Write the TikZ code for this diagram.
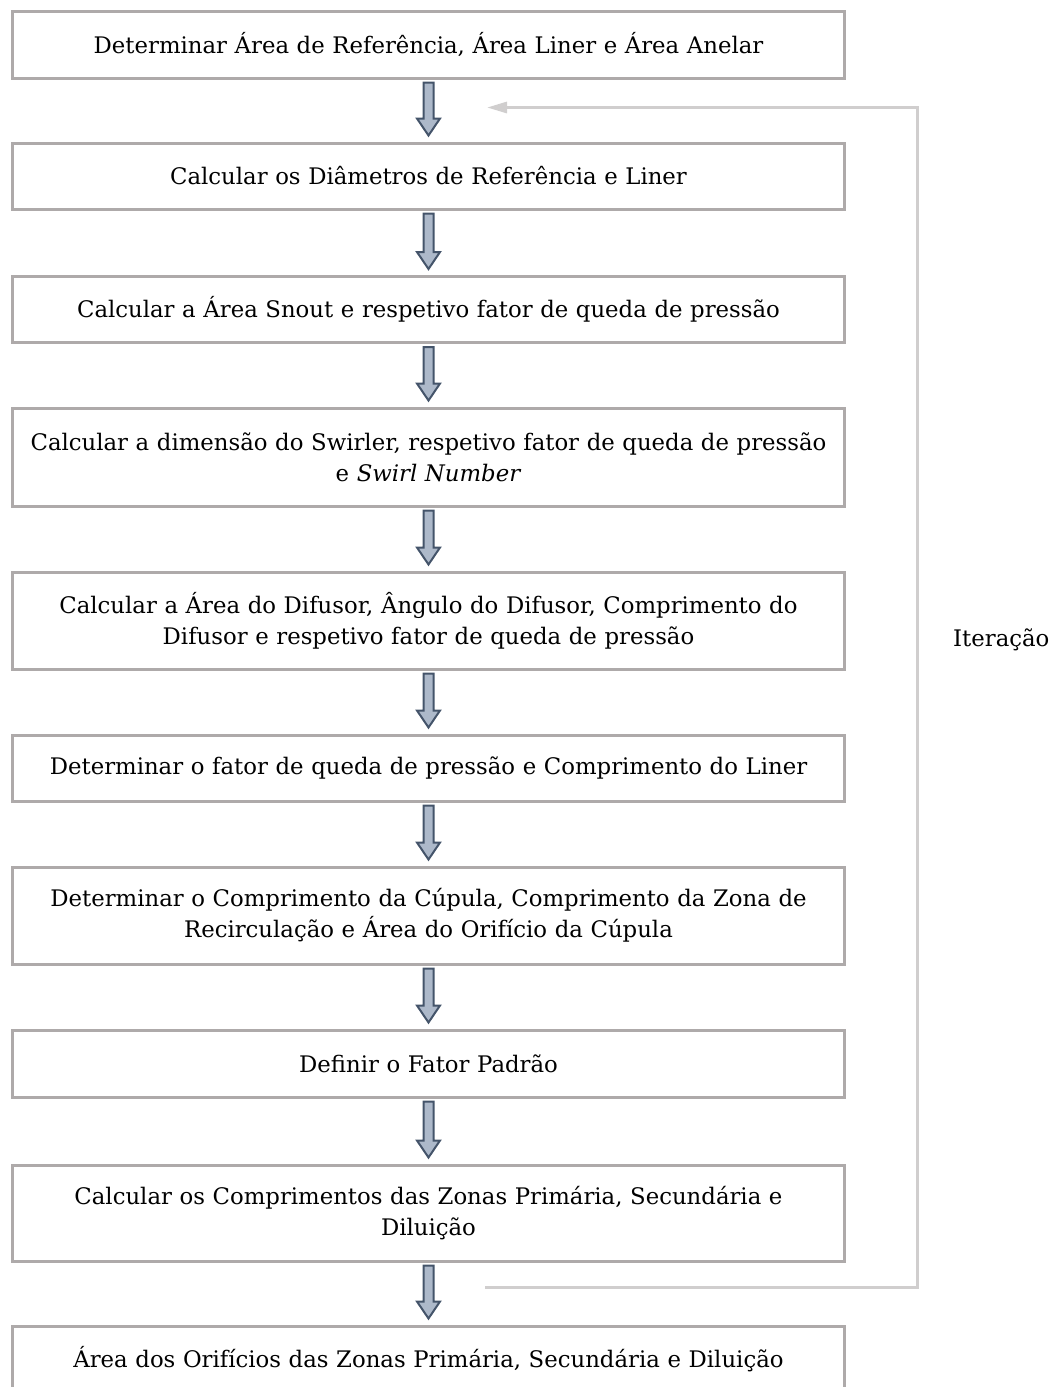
\documentclass[tikz,border=0pt]{standalone}
\usepackage{fontspec}
\setmainfont{DejaVu Serif}
\usetikzlibrary{calc,arrows.meta}
\definecolor{boxgray}{HTML}{AEAAAA}
\definecolor{itergray}{HTML}{D0CECE}
\definecolor{arrfill}{HTML}{ADB9CA}
\definecolor{arrdraw}{HTML}{44546A}
\newcommand\blockarr[2]{%
  \draw[draw=arrdraw, fill=arrfill, line width=2pt, line join=miter]
    let \p1=($(#1.south)+(0,3)$), \p2=($(#2.north)+(0,-6)$) in
    (\x1-5pt,\y1) -- (\x1+5pt,\y1) -- (\x1+5pt,\y2+17pt) -- (\x1+11.5pt,\y2+17pt)
    -- (\x1,\y2) -- (\x1-11.5pt,\y2+17pt) -- (\x1-5pt,\y2+17pt) -- cycle;}
\tikzset{
  txtfont/.style={font=\fontsize{22.8pt}{31pt}\selectfont},
  stepbox/.style={draw=boxgray, line width=3pt, minimum width=832pt,
    minimum height=#1, inner sep=0pt, align=center, text width=826pt, txtfont},
  iterline/.style={draw=itergray, line width=3pt},
}
\begin{document}
\begin{tikzpicture}[x=1pt,y=-1pt]
\useasboundingbox (0,0) rectangle (1053,1387);
\node[stepbox=67pt] (b1) at (428.5,44.5) {Determinar Área de Referência, Área Liner e Área Anelar};
\node[stepbox=66pt] (b2) at (428.5,176) {Calcular os Diâmetros de Referência e Liner};
\node[stepbox=66pt] (b3) at (428.5,309.5) {Calcular a Área Snout e respetivo fator de queda de pressão};
\node[stepbox=98pt] (b4) at (428.5,457) {Calcular a dimensão do Swirler, respetivo fator de queda de pressão\\ e \textit{Swirl Number}};
\node[stepbox=97pt] (b5) at (428.5,620.5) {Calcular a Área do Difusor, Ângulo do Difusor, Comprimento do\\ Difusor e respetivo fator de queda de pressão};
\node[stepbox=66pt] (b6) at (428.5,768) {Determinar o fator de queda de pressão e Comprimento do Liner};
\node[stepbox=97pt] (b7) at (428.5,915.5) {Determinar o Comprimento da Cúpula, Comprimento da Zona de\\ Recirculação e Área do Orifício da Cúpula};
\node[stepbox=67pt] (b8) at (428.5,1063.5) {Definir o Fator Padrão};
\node[stepbox=96pt] (b9) at (428.5,1213) {Calcular os Comprimentos das Zonas Primária, Secundária e\\ Diluição};
\node[stepbox=67pt] (b10) at (428.5,1359.5) {Área dos Orifícios das Zonas Primária, Secundária e Diluição};
\blockarr{b1}{b2}
\blockarr{b2}{b3}
\blockarr{b3}{b4}
\blockarr{b4}{b5}
\blockarr{b5}{b6}
\blockarr{b6}{b7}
\blockarr{b7}{b8}
\blockarr{b8}{b9}
\blockarr{b9}{b10}
\coordinate (itstart) at (485,1287);
\coordinate (itend) at (487,107.5);
\coordinate (itbot) at (917,1287);
\coordinate (ittop) at (917,107.5);
\draw[iterline, -{Triangle[length=20pt,width=11pt]}] (itstart) -- (itbot) -- (ittop) -- (itend);
\node[txtfont, anchor=west, inner sep=0pt] (iterlabel) at (953,640) {Iteração};
\end{tikzpicture}
\end{document}
